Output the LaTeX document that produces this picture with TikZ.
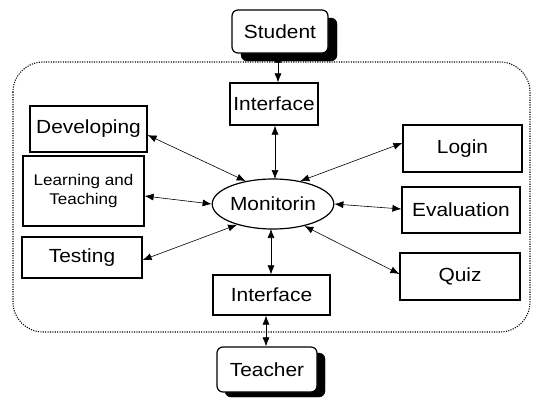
\documentclass[tikz,border=0pt]{standalone}
\usepackage{fontspec}
\setmainfont{Liberation Sans}[FakeStretch=1.1]
\usetikzlibrary{shapes.geometric,arrows.meta}
\begin{document}
\begin{tikzpicture}[x=1pt,y=-1pt,
  box/.style={draw,line width=1.2pt,inner sep=0pt,font=\fontsize{19}{21}\selectfont},
  actor/.style={box,rounded corners=6pt,fill=white},
  shadowbox/.style={fill=black,rounded corners=6pt,draw=black},
  link/.style={line width=0.6pt,{Latex[length=9pt,width=7pt]}-{Latex[length=9pt,width=7pt]}}]
\useasboundingbox (0,0) rectangle (535,399);
% system boundary
\draw[line width=1.1pt,dash pattern=on 1.1pt off 1.3pt,rounded corners=30pt] (13,62) rectangle (530,332);
% shadows
\fill[shadowbox] (241,18) rectangle (337,61);
\fill[shadowbox] (225,353) rectangle (325,397);
% actors
\node[actor,minimum width=96pt,minimum height=43pt] (student) at (280,31.5) {Student};
\node[actor,minimum width=100pt,minimum height=45pt] (teacher) at (267,369.5) {Teacher};
% interfaces
\node[box,minimum width=88pt,minimum height=42pt] (itop) at (274,104) {Interface};
\node[box,minimum width=117pt,minimum height=40pt] (ibot) at (271.5,295) {Interface};
% left
\node[box,minimum width=117pt,minimum height=46pt] (dev) at (88.5,129) {Developing};
\node[box,minimum width=121pt,minimum height=70pt,align=center,font=\fontsize{15.5}{19}\selectfont] (lt) at (83.5,191) {Learning and\\Teaching};
\node[box,minimum width=120pt,minimum height=41pt] (test) at (82,257.5) {Testing};
% right
\node[box,minimum width=119pt,minimum height=47pt] (login) at (462.5,148.5) {Login};
\node[box,minimum width=118pt,minimum height=46pt] (eval) at (461,210) {Evaluation};
\node[box,minimum width=120pt,minimum height=47pt] (quiz) at (460,276.5) {Quiz};
% center
\node[ellipse,draw,line width=1.2pt,minimum width=110pt,minimum height=50pt,inner sep=0pt,font=\fontsize{19}{21}\selectfont] (mon) at (273,204) {Monitorin};
% connectors
\draw[link] (student.south -| 278,0) -- (itop.north -| 278,0);
\draw[link] (itop.south -| 275,0) -- (275,179);
\draw[link] (271,229) -- (ibot.north -| 271,0);
\draw[link] (ibot.south -| 266,0) -- (teacher.north -| 266,0);
\draw[link] (dev.east |- 0,135) -- (mon.140);
\draw[link] (lt.east |- 0,196) -- (mon.west);
\draw[link] (test.east |- 0,260) -- (mon.210);
\draw[link] (login.west |- 0,143) -- (mon.40);
\draw[link] (eval.west |- 0,209) -- (mon.east);
\draw[link] (quiz.west |- 0,274) -- (mon.-35);
\end{tikzpicture}
\end{document}
